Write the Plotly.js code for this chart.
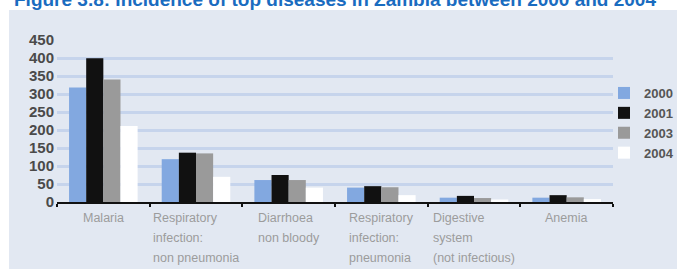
<!DOCTYPE html>
<html>
<head>
<meta charset="utf-8">
<script src="https://cdn.plot.ly/plotly-3.0.1.min.js"></script>
<style>
html,body{margin:0;padding:0;background:#ffffff;}
#chart{width:677px;height:269px;}
</style>
</head>
<body>
<div id="chart"></div>
<script>
// ---- data ----
const categories = ["Malaria", "Respiratory<br>infection:<br>non pneumonia", "Diarrhoea<br>non bloody", "Respiratory<br>infection:<br>pneumonia", "Digestive<br>system<br>(not infectious)", "Anemia"];
const seriesNames = ["2000", "2001", "2003", "2004"];
const values2000 = [318, 119, 61, 40, 12, 12];
const values2001 = [399, 137, 75, 44, 17, 19];
const values2003 = [340, 135, 61, 41, 11, 13];
const values2004 = [211, 70, 40, 19, 7, 8];
const yTicks = [0, 50, 100, 150, 200, 250, 300, 350, 400, 450];
const titleText = "Figure 3.8: Incidence of top diseases in Zambia between 2000 and 2004";

// ---- styles ----
const colors = ["#82a8e0", "#111111", "#9a9a9a", "#ffffff"];
const seriesValues = [values2000, values2001, values2003, values2004];
const W = 677, H = 269;
const margin = {l: 57, r: 64, t: 40, b: 67, autoexpand: false};
const plotW = W - margin.l - margin.r;
const plotH = H - margin.t - margin.b;
const normal = "'Liberation Sans', Arial, sans-serif";
const labelFontSize = 12.5;
const lineStep = 20;

const traces = seriesNames.map((name, i) => ({
  type: "bar",
  name: name,
  x: categories,
  y: seriesValues[i],
  marker: {color: colors[i], line: {width: 0}},
  hoverinfo: "skip"
}));

// measure text to left-align label lines as a centered block
const ctx = document.createElement("canvas").getContext("2d");
ctx.font = labelFontSize + "px 'Liberation Sans', Arial, sans-serif";
const annotations = [];
categories.forEach(c => {
  const lines = c.split("<br>");
  const maxW = Math.max(...lines.map(l => ctx.measureText(l).width));
  lines.forEach((l, k) => {
    annotations.push({
      xref: "x", yref: "paper",
      x: c, y: 0, yshift: -7 - lineStep * k,
      xanchor: "left", yanchor: "top",
      xshift: -maxW / 2 - 2,
      text: l,
      showarrow: false,
      font: {family: normal, size: labelFontSize, color: "#9c9c9c"}
    });
  });
});

const px = v => (v - margin.l) / plotW;
const py = v => 1 - (v - margin.t) / plotH;

const layout = {
  width: W, height: H,
  margin: margin,
  paper_bgcolor: "#ffffff",
  plot_bgcolor: "#a7bbdf",
  title: {
    text: "<b>" + titleText + "</b>",
    font: {family: normal, size: 19, color: "#1a6cc0"},
    xref: "container", yref: "container",
    x: 14 / W, xanchor: "left",
    y: 1 - 6 / H, yanchor: "bottom"
  },
  barmode: "group",
  bargap: 0.26,
  bargroupgap: 0,
  showlegend: true,
  legend: {
    x: px(604), y: py(78), xanchor: "left", yanchor: "top",
    bgcolor: "rgba(0,0,0,0)",
    font: {family: normal, size: 13, color: "#555555", weight: "bold"},
    itemwidth: 30,
    tracegroupgap: 0
  },
  xaxis: {
    type: "category",
    showticklabels: false,
    showgrid: false,
    showline: true, linecolor: "#111111", linewidth: 2,
    ticks: "outside", tickson: "boundaries", ticklen: 3, tickwidth: 2, tickcolor: "#111111",
    zeroline: false,
    fixedrange: true
  },
  yaxis: {
    range: [0, 450],
    tickvals: yTicks,
    ticktext: yTicks.map(String),
    showgrid: true, gridcolor: "#c6d4ec", gridwidth: 3,
    showline: false, zeroline: false,
    ticks: "",
    tickfont: {family: normal, size: 15, color: "#4a4a4a", weight: "bold"},
    ticklabelstandoff: 2,
    fixedrange: true
  },
  shapes: [{
    type: "rect", xref: "paper", yref: "paper", layer: "below",
    x0: px(9), x1: px(W + 5), y0: py(10), y1: py(H + 5),
    fillcolor: "#e2e8f2", line: {width: 0}
  }],
  annotations: annotations
};

Plotly.newPlot("chart", traces, layout, {displayModeBar: false, staticPlot: true});
</script>
</body>
</html>
